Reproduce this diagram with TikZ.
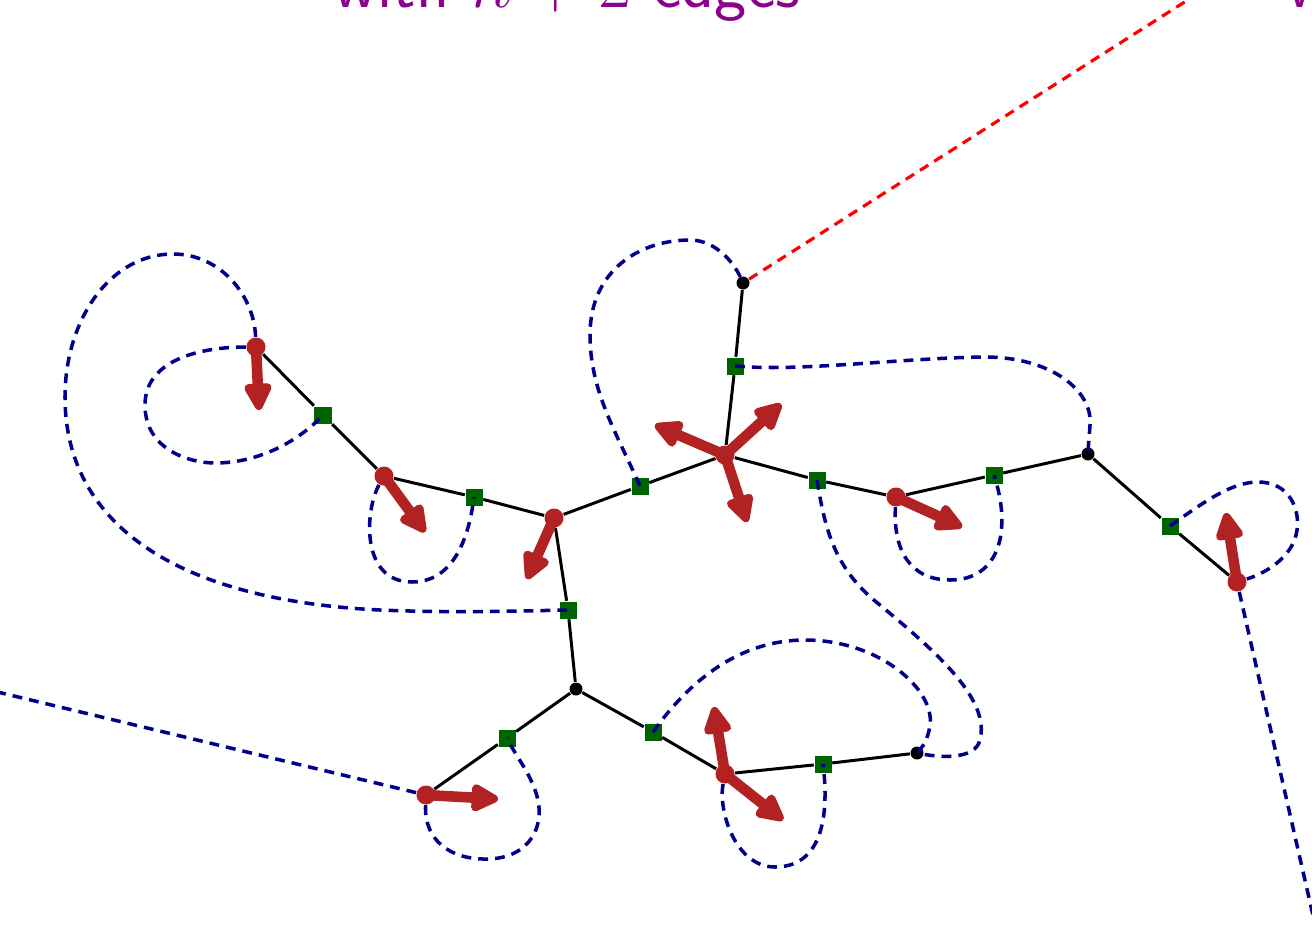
\documentclass[tikz,border=0pt]{standalone}
\usepackage{tikz}
\usepackage{xcolor}
\usetikzlibrary{arrows.meta}

\definecolor{treegreen}{RGB}{0,100,0}
\definecolor{dotred}{RGB}{178,34,34}
\definecolor{walkblue}{RGB}{0,0,139}
\definecolor{titlepurple}{RGB}{140,0,140}

\begin{document}
\begin{tikzpicture}[x=0.01cm, y=-0.01cm,
    title/.style={text=titlepurple, font=\fontsize{19.5}{22}\selectfont\sffamily, inner sep=0pt},
    reddot/.style={circle, fill=dotred, minimum size=0.19cm, inner sep=0pt},
    blackdot/.style={circle, fill=black, minimum size=0.13cm, inner sep=0pt},
    greensq/.style={rectangle, fill=treegreen, minimum size=0.17cm, inner sep=0pt},
    tree/.style={line width=0.85pt},
    walk/.style={walkblue, line width=1pt, dash pattern=on 2.8pt off 2pt},
    cut/.style={red, line width=0.9pt, dash pattern=on 2.8pt off 2pt},
    fatarrow/.style={dotred, line width=3pt, -{Triangle[length=9pt, width=8.5pt, round]}}]
    % Frame
    \useasboundingbox (0,0) rectangle (1312,945);
    \clip (0,0) rectangle (1312,945);

    % Titles
    \node[title, anchor=base] (tleft) at (567,7) {with $n+2$ edges};
    \node[title, anchor=base west] (tright) at (1287,7) {with};

    % Vertices
    \node[reddot] (r1) at (256,347) {};
    \node[greensq] (g1) at (323,415) {};
    \node[reddot] (r2) at (384,476) {};
    \node[greensq] (g2) at (474,497) {};
    \node[reddot] (r3) at (554,518) {};
    \node[greensq] (g3) at (640,486) {};
    \node[reddot] (r4) at (725,455) {};
    \node[greensq] (g4) at (735,366) {};
    \node[blackdot] (a) at (743,283) {};
    \node[greensq] (g5) at (817,480) {};
    \node[reddot] (r5) at (896,497) {};
    \node[greensq] (g6) at (994,475) {};
    \node[blackdot] (b) at (1088,454) {};
    \node[greensq] (g7) at (1170,526) {};
    \node[reddot] (r6) at (1237,582) {};
    \node[greensq] (g8) at (568,610) {};
    \node[blackdot] (c) at (576,689) {};
    \node[greensq] (g9) at (507,738) {};
    \node[reddot] (r7) at (426,795) {};
    \node[greensq] (g10) at (653,732) {};
    \node[reddot] (r8) at (725,774) {};
    \node[greensq] (g11) at (823,764) {};
    \node[blackdot] (d) at (917,753) {};

    % Tree
    \draw[tree] (r1) -- (g1) -- (r2) -- (g2) -- (r3) -- (g3) -- (r4) -- (g4) -- (a);
    \draw[tree] (r4) -- (g5) -- (r5) -- (g6) -- (b) -- (g7) -- (r6);
    \draw[tree] (r3) -- (g8) -- (c) -- (g9) -- (r7);
    \draw[tree] (c) -- (g10) -- (r8) -- (g11) -- (d);

    % Walk around the tree
    \coordinate (out6) at (1330,990);
    \coordinate (out7) at (-40,683);
    \coordinate (outa) at (1227,-25);
    \draw[walk] (r1) .. controls (254,295) and (220,254) .. (173,254)
        .. controls (110,254) and (65,320) .. (65,397)
        .. controls (65,520) and (170,600) .. (380,610)
        .. controls (450,613) and (520,611) .. (g8.center);
    \draw[walk] (r1) .. controls (200,347) and (145,360) .. (145,405)
        .. controls (145,450) and (190,463) .. (215,463)
        .. controls (260,463) and (300,440) .. (g1.center);
    \draw[walk] (r2) .. controls (365,510) and (360,582) .. (412,582)
        .. controls (450,582) and (468,545) .. (g2.center);
    \draw[walk] (g3.center) .. controls (615,430) and (590,390) .. (590,335)
        .. controls (590,270) and (640,240) .. (690,240)
        .. controls (715,240) and (735,262) .. (a.center);
    \draw[walk] (g4.center) .. controls (800,372) and (900,358) .. (985,357)
        .. controls (1050,357) and (1093,390) .. (1090,425)
        .. controls (1089,440) and (1088,448) .. (b.center);
    \draw[walk] (g5.center) .. controls (825,530) and (835,570) .. (880,605)
        .. controls (940,655) and (990,700) .. (980,740)
        .. controls (975,760) and (940,758) .. (d.center);
    \draw[walk] (r5) .. controls (893,550) and (910,580) .. (950,580)
        .. controls (1000,580) and (1012,530) .. (g6.center);
    \draw[walk] (g7.center) .. controls (1200,505) and (1230,482) .. (1258,482)
        .. controls (1290,482) and (1300,510) .. (1297,530)
        .. controls (1293,560) and (1260,575) .. (r6);
    \draw[walk] (r6) -- (out6);
    \draw[walk] (r7) -- (out7);
    \draw[walk] (r7) .. controls (424,840) and (450,860) .. (488,859)
        .. controls (530,858) and (548,825) .. (535,790)
        .. controls (528,770) and (515,755) .. (g9.center);
    \draw[walk] (g10.center) .. controls (690,680) and (740,640) .. (805,640)
        .. controls (880,640) and (935,690) .. (930,725)
        .. controls (928,740) and (922,748) .. (d.center);
    \draw[walk] (r8) .. controls (718,810) and (735,867) .. (775,867)
        .. controls (820,867) and (830,820) .. (g11.center);
    \draw[cut] (a) -- (outa);

    % Arrows at the red vertices
    \coordinate (h1) at (259,410);
    \coordinate (h2) at (425,532);
    \coordinate (h3) at (527,579);
    \coordinate (h4a) at (655,425);
    \coordinate (h4b) at (781,404);
    \coordinate (h4c) at (747,522);
    \coordinate (h5) at (962,527);
    \coordinate (h6) at (1226,513);
    \coordinate (h7) at (498,799);
    \coordinate (h8a) at (714,707);
    \coordinate (h8b) at (783,820);
    \foreach \s/\t in {r1/h1, r2/h2, r3/h3, r4/h4a, r4/h4b, r4/h4c, r5/h5, r6/h6, r7/h7, r8/h8a, r8/h8b}
        \draw[fatarrow] (\s.center) -- (\t);
\end{tikzpicture}
\end{document}
